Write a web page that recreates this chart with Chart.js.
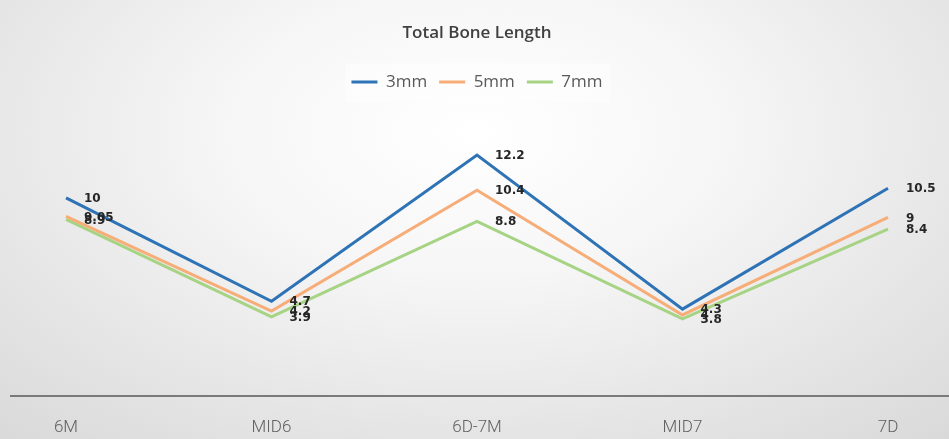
<!DOCTYPE html>
<html lang="en">
<head>
    <meta charset="UTF-8">
    <title>Total Bone Length</title>
    <style>
        html, body {
            margin: 0;
            padding: 0;
        }
        body {
            width: 949px;
            height: 439px;
            overflow: hidden;
            background: radial-gradient(ellipse 75% 95% at 50% 30%, #ffffff 0%, #f6f6f6 35%, #e6e6e6 70%, #d9d9d9 100%);
        }
        #chartContainer {
            position: relative;
            width: 949px;
            height: 439px;
        }
    </style>
    <script src="https://cdn.jsdelivr.net/npm/chart.js@4/dist/chart.umd.min.js"></script>
</head>
<body>
    <div id="chartContainer">
        <canvas id="chart"></canvas>
    </div>
    <script>
        // datos
        const categories = ['6M', 'MID6', '6D-7M', 'MID7', '7D'];
        const seriesNames = ['3mm', '5mm', '7mm'];
        const values3mm = [10, 4.7, 12.2, 4.3, 10.5];
        const values5mm = [9.05, 4.2, 10.4, 4, 9];
        const values7mm = [8.9, 3.9, 8.8, 3.8, 8.4];
        const colors = ['#2e73b5', '#f7ad78', '#a6d384'];

        // caja clara detrás de la leyenda
        const legendBox = {
            id: 'legendBox',
            beforeDraw(chart) {
                const boxes = chart.legend && chart.legend.legendHitBoxes;
                if (!boxes || !boxes.length) return;
                const ctx = chart.ctx;
                const left = Math.min(...boxes.map(b => b.left)) - 6;
                const right = Math.max(...boxes.map(b => b.left + b.width)) + 8;
                const top = chart.legend.top + 2;
                const bottom = chart.legend.bottom + 2;
                ctx.save();
                ctx.fillStyle = 'rgba(255,255,255,0.45)';
                ctx.fillRect(left, top, right - left, bottom - top);
                ctx.restore();
            }
        };

        // línea del eje x a todo lo ancho
        const axisLine = {
            id: 'axisLine',
            beforeDatasetsDraw(chart) {
                const ctx = chart.ctx;
                const y = chart.scales.y.getPixelForValue(0) + 3;
                ctx.save();
                ctx.strokeStyle = '#7a7a7a';
                ctx.lineWidth = 2;
                ctx.beginPath();
                ctx.moveTo(10, y);
                ctx.lineTo(chart.width, y);
                ctx.stroke();
                ctx.restore();
            }
        };

        // etiquetas de datos a la derecha de cada punto
        const dataLabels = {
            id: 'dataLabels',
            afterDatasetsDraw(chart) {
                const ctx = chart.ctx;
                ctx.save();
                ctx.font = 'bold 12px "DejaVu Sans", sans-serif';
                ctx.fillStyle = '#262626';
                ctx.textAlign = 'left';
                ctx.textBaseline = 'middle';
                chart.data.datasets.forEach((ds, i) => {
                    chart.getDatasetMeta(i).data.forEach((pt, j) => {
                        ctx.fillText(String(ds.data[j]), pt.x + 18, pt.y + 1);
                    });
                });
                ctx.restore();
            }
        };

        const ctx = document.getElementById('chart').getContext('2d');
        new Chart(ctx, {
            type: 'line',
            data: {
                labels: categories,
                datasets: [values3mm, values5mm, values7mm].map((vals, i) => ({
                    label: seriesNames[i],
                    data: vals,
                    borderColor: colors[i],
                    backgroundColor: colors[i],
                    borderWidth: 3,
                    pointRadius: 0,
                    tension: 0
                }))
            },
            options: {
                responsive: true,
                maintainAspectRatio: false,
                animation: false,
                layout: {
                    padding: { top: 8, left: 66, right: 61, bottom: 0 }
                },
                plugins: {
                    title: {
                        display: true,
                        text: 'Total Bone Length',
                        color: '#404040',
                        font: { family: '"Open Sans", sans-serif', size: 17, weight: '600' },
                        padding: { top: 15, bottom: 18 }
                    },
                    legend: {
                        display: true,
                        labels: {
                            usePointStyle: true,
                            pointStyle: 'line',
                            pointStyleWidth: 26,
                            boxWidth: 26,
                            color: '#595959',
                            font: { family: '"Open Sans", sans-serif', size: 17 },
                            padding: 12
                        }
                    },
                    tooltip: { enabled: false }
                },
                scales: {
                    x: {
                        offset: false,
                        grid: { display: false, drawTicks: false },
                        border: { display: false },
                        ticks: {
                            color: '#606060',
                            padding: 25,
                            font: { family: 'Roboto, sans-serif', size: 17, weight: '300' }
                        },
                        afterFit(scale) {
                            scale.height = 46;
                        }
                    },
                    y: {
                        display: false,
                        min: 0,
                        max: 15
                    }
                }
            },
            plugins: [legendBox, axisLine, dataLabels]
        });
    </script>
</body>
</html>
